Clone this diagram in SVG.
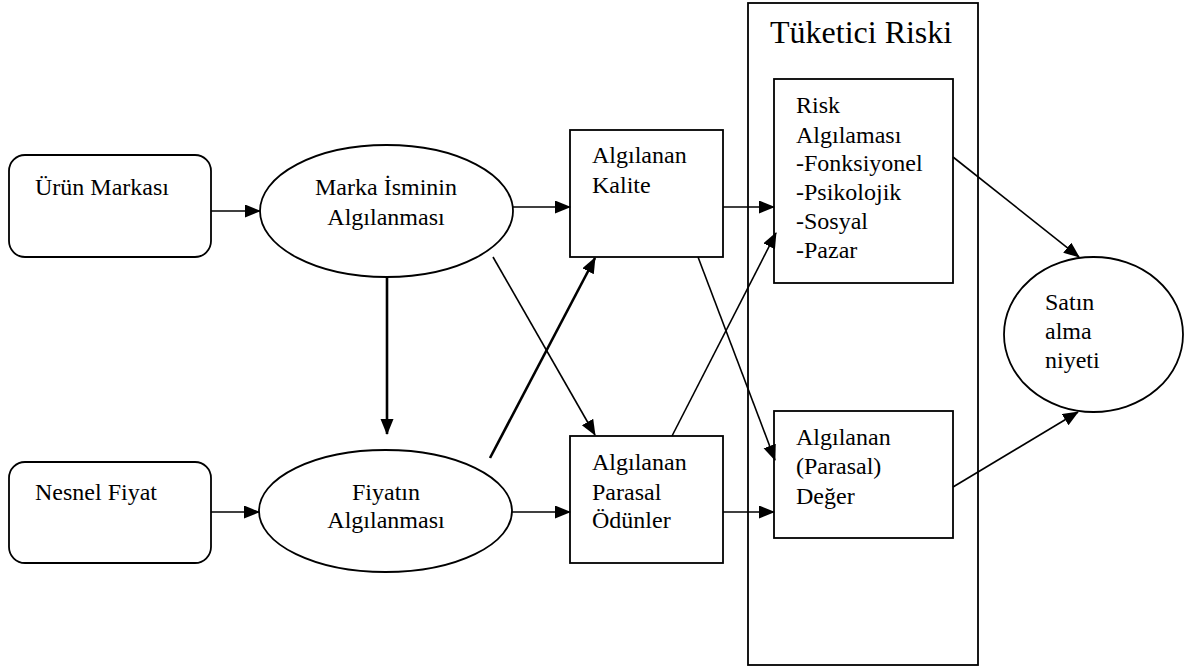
<svg xmlns="http://www.w3.org/2000/svg" width="1196" height="671" viewBox="0 0 1196 671">
  <style>
    .shape { fill: #fff; stroke: #000; stroke-width: 1.8; }
    .lbl { font-family: "Liberation Serif", "Times New Roman", serif; font-size: 24px; fill: #000; }
    .title { font-family: "Liberation Serif", "Times New Roman", serif; font-size: 32px; fill: #000; }
    .edge { fill: none; stroke: #000; stroke-width: 1.6; marker-end: url(#arrow); }
    .edge.bold { stroke-width: 2.6; }
  </style>
  <defs>
    <marker id="arrow" markerUnits="userSpaceOnUse" markerWidth="16" markerHeight="14" refX="15" refY="6.5" orient="auto">
      <path d="M0,0 L16,6.5 L0,13 z" fill="#000"/>
    </marker>
  </defs>

  <rect width="1196" height="671" fill="#fff"/>

  <!-- Consumer risk frame -->
  <g id="tuketici-riski">
    <rect class="shape" x="748" y="3" width="230" height="662"/>
    <text class="title" x="770" y="43">Tüketici Riski</text>
  </g>

  <g id="urun-markasi">
    <rect class="shape" x="9" y="155" width="202" height="102" rx="16" ry="16"/>
    <text class="lbl" x="35" y="195">Ürün Markası</text>
  </g>

  <g id="nesnel-fiyat">
    <rect class="shape" x="9" y="462" width="202" height="101" rx="16" ry="16"/>
    <text class="lbl" x="35" y="500">Nesnel Fiyat</text>
  </g>

  <g id="marka-ismi">
    <ellipse class="shape" cx="386.5" cy="211" rx="126.5" ry="66"/>
    <text class="lbl" x="386" y="195" text-anchor="middle">Marka İsminin</text>
    <text class="lbl" x="386" y="225" text-anchor="middle">Algılanması</text>
  </g>

  <g id="fiyat-algisi">
    <ellipse class="shape" cx="385.5" cy="511" rx="126.5" ry="61"/>
    <text class="lbl" x="386" y="500" text-anchor="middle">Fiyatın</text>
    <text class="lbl" x="386" y="528" text-anchor="middle">Algılanması</text>
  </g>

  <g id="algilanan-kalite">
    <rect class="shape" x="570" y="130" width="153" height="127"/>
    <text class="lbl" x="592" y="163">Algılanan</text>
    <text class="lbl" x="592" y="193">Kalite</text>
  </g>

  <g id="parasal-odunler">
    <rect class="shape" x="570" y="436" width="153" height="127"/>
    <text class="lbl" x="592" y="470">Algılanan</text>
    <text class="lbl" x="592" y="500">Parasal</text>
    <text class="lbl" x="592" y="528">Ödünler</text>
  </g>

  <g id="risk-algilamasi">
    <rect class="shape" x="774" y="79" width="179" height="204"/>
    <text class="lbl" x="796" y="113">Risk</text>
    <text class="lbl" x="796" y="143">Algılaması</text>
    <text class="lbl" x="796" y="171">-Fonksiyonel</text>
    <text class="lbl" x="796" y="200">-Psikolojik</text>
    <text class="lbl" x="796" y="229">-Sosyal</text>
    <text class="lbl" x="796" y="258">-Pazar</text>
  </g>

  <g id="algilanan-deger">
    <rect class="shape" x="774" y="411" width="179" height="127"/>
    <text class="lbl" x="796" y="445">Algılanan</text>
    <text class="lbl" x="796" y="474">(Parasal)</text>
    <text class="lbl" x="796" y="504">Değer</text>
  </g>

  <g id="satin-alma-niyeti">
    <ellipse class="shape" cx="1093.5" cy="334.5" rx="89.5" ry="77.5"/>
    <text class="lbl" x="1045" y="310">Satın</text>
    <text class="lbl" x="1045" y="339">alma</text>
    <text class="lbl" x="1045" y="368">niyeti</text>
  </g>

  <g id="connectors">
    <line class="edge" x1="211" y1="211" x2="260" y2="211"/>
    <line class="edge" x1="211" y1="512" x2="259" y2="512"/>
    <line class="edge" x1="513" y1="207" x2="570" y2="207"/>
    <line class="edge" x1="723" y1="207" x2="774" y2="207"/>
    <line class="edge" x1="512" y1="512" x2="570" y2="512"/>
    <line class="edge" x1="723" y1="512" x2="774" y2="512"/>
    <line class="edge bold" x1="387" y1="277" x2="387" y2="434"/>
    <line class="edge bold" x1="490" y1="458" x2="595" y2="258"/>
    <line class="edge" x1="493" y1="257" x2="595" y2="435"/>
    <line class="edge" x1="698" y1="257" x2="775" y2="460"/>
    <line class="edge" x1="672" y1="436" x2="776" y2="233"/>
    <line class="edge" x1="953" y1="157" x2="1079" y2="257"/>
    <line class="edge" x1="953" y1="487" x2="1078" y2="412"/>
  </g>
</svg>
